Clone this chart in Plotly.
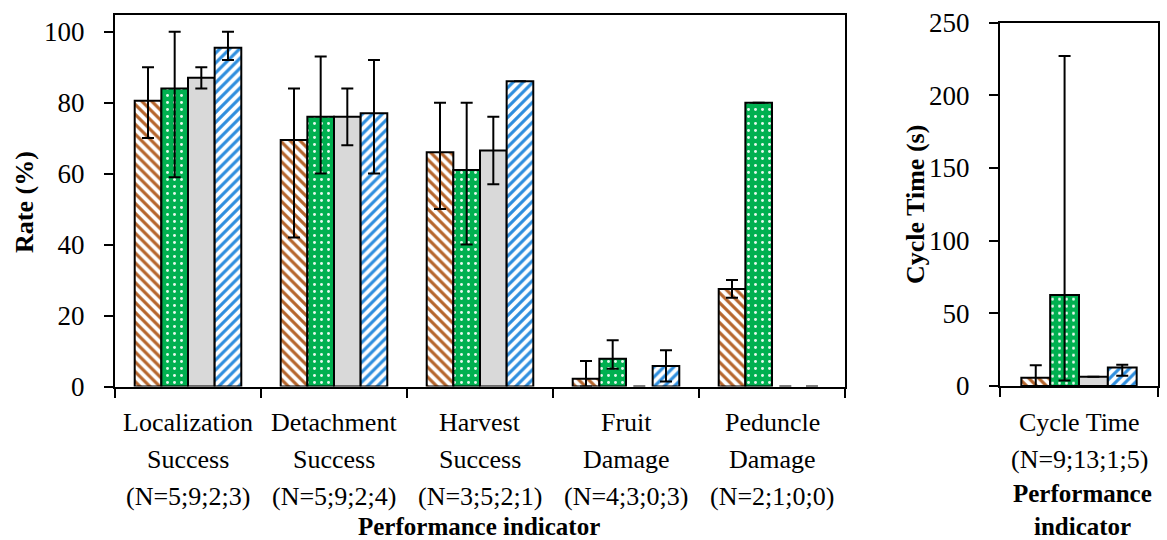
import plotly.graph_objects as go

# ---------------- data ----------------
categories = ["Localization Success", "Detachment Success", "Harvest Success",
              "Fruit Damage", "Peduncle Damage"]
cat_line1 = ["Localization", "Detachment", "Harvest", "Fruit", "Peduncle"]
cat_line2 = ["Success", "Success", "Success", "Damage", "Damage"]
cat_n = ["(N=5;9;2;3)", "(N=5;9;2;4)", "(N=3;5;2;1)", "(N=4;3;0;3)", "(N=2;1;0;0)"]

series_names = ["Series A", "Series B", "Series C", "Series D"]

rate_a = [80.5, 69.5, 66.0, 2.2, 27.5]
rate_a_plus = [9.5, 14.5, 14.0, 5.0, 2.5]
rate_a_minus = [10.5, 27.5, 16.0, 2.2, 2.5]

rate_b = [84.0, 76.0, 61.0, 7.8, 80.0]
rate_b_plus = [16.0, 17.0, 19.0, 5.2, 0]
rate_b_minus = [25.0, 16.0, 21.0, 2.8, 0]

rate_c = [87.0, 76.0, 66.5, 0, 0]
rate_c_plus = [3.0, 8.0, 9.5, 0, 0]
rate_c_minus = [3.0, 8.0, 9.5, 0, 0]

rate_d = [95.5, 77.0, 86.0, 5.8, 0]
rate_d_plus = [4.5, 15.0, 0, 4.4, 0]
rate_d_minus = [3.5, 17.0, 0, 4.4, 0]

ct_category = ["Cycle Time"]
ct_n = ["(N=9;13;1;5)"]
ct_a, ct_a_plus, ct_a_minus = [5.7], [8.5], [5.7]
ct_b, ct_b_plus, ct_b_minus = [62.6], [164.4], [58.9]
ct_c, ct_c_plus, ct_c_minus = [6.4], [0], [0]
ct_d, ct_d_plus, ct_d_minus = [12.8], [1.9], [5.7]

y_ticks_rate = [0, 20, 40, 60, 80, 100]
y_ticks_ct = [0, 50, 100, 150, 200, 250]

# ---------------- styles ----------------
W, H = 1167, 540
FONT = "Liberation Serif"
BROWN = "#b5652c"
GREEN = "#00b050"
GRAY = "#d9d9d9"
BLUE = "#2e8ede"

patterns = [
    dict(color="white",
         pattern=dict(shape="\\", fgcolor=BROWN, bgcolor="white",
                      size=7, solidity=0.45, fillmode="replace")),
    dict(color=GREEN,
         pattern=dict(shape=".", fgcolor="#e6f9ee", bgcolor=GREEN,
                      size=7, solidity=0.14, fillmode="replace")),
    dict(color=GRAY),
    dict(color="white",
         pattern=dict(shape="/", fgcolor=BLUE, bgcolor="white",
                      size=7, solidity=0.45, fillmode="replace")),
]

def marker_for(i, values):
    m = dict(patterns[i])
    # empty (zero) bars are not visible in the reference
    m["line"] = dict(color="black", width=[2 if v > 0 else 0 for v in values])
    m["opacity"] = [1 if v > 0 else 0 for v in values]
    return m

def err(plus, minus, values):
    p = [e if v > 0 else None for e, v in zip(plus, values)]
    m = [e if v > 0 else None for e, v in zip(minus, values)]
    return dict(type="data", symmetric=False, array=p, arrayminus=m,
                color="black", thickness=2, width=6)

fig = go.Figure()
left_sets = [(rate_a, rate_a_plus, rate_a_minus), (rate_b, rate_b_plus, rate_b_minus),
             (rate_c, rate_c_plus, rate_c_minus), (rate_d, rate_d_plus, rate_d_minus)]
for i, (v, p, m) in enumerate(left_sets):
    fig.add_trace(go.Bar(x=categories, y=v, name=series_names[i], error_y=err(p, m, v),
                         xaxis="x", yaxis="y", showlegend=False,
                         marker=marker_for(i, v)))

right_sets = [(ct_a, ct_a_plus, ct_a_minus), (ct_b, ct_b_plus, ct_b_minus),
              (ct_c, ct_c_plus, ct_c_minus), (ct_d, ct_d_plus, ct_d_minus)]
for i, (v, p, m) in enumerate(right_sets):
    fig.add_trace(go.Bar(x=ct_category, y=v, name=series_names[i], error_y=err(p, m, v),
                         xaxis="x2", yaxis="y2", showlegend=False,
                         marker=marker_for(i, v)))

def px_x(px):
    return px / W

def px_y(py):
    return 1 - py / H

axis_common = dict(showline=True, linecolor="black", linewidth=2, mirror=True,
                   showgrid=False, zeroline=False, ticks="outside", ticklen=9,
                   tickwidth=2, tickcolor="black", automargin=False,
                   tickfont=dict(family=FONT, size=27, color="black"))

fig.update_layout(
    width=W, height=H,
    margin=dict(l=0, r=0, t=0, b=0, autoexpand=False),
    paper_bgcolor="white", plot_bgcolor="white",
    barmode="group", bargap=0.27, bargroupgap=0,
    font=dict(family=FONT, color="black"),
    xaxis=dict(domain=[px_x(115), px_x(845)], anchor="y", tickson="boundaries",
               showticklabels=False, **axis_common),
    yaxis=dict(domain=[px_y(386.5), px_y(15)], anchor="x", range=[0, 104.7],
               tickvals=y_ticks_rate, ticklabelstandoff=14, **axis_common),
    xaxis2=dict(domain=[px_x(1000), px_x(1158)], anchor="y2", tickson="boundaries",
                showticklabels=False, **axis_common),
    yaxis2=dict(domain=[px_y(386), px_y(22.7)], anchor="x2", range=[0, 250],
                tickvals=y_ticks_ct, ticklabelstandoff=14, **axis_common),
)

ann = []
cat_font = dict(family=FONT, size=26, color="black")
for i, c in enumerate(categories):
    for line_text, ypx in ((cat_line1[i], 422), (cat_line2[i], 459), (cat_n[i], 496)):
        ann.append(dict(x=c, xref="x", y=px_y(ypx), yref="paper", text=line_text,
                        showarrow=False, xanchor="center", yanchor="middle",
                        borderpad=0, borderwidth=0, font=cat_font))
for line_text, ypx in ((ct_category[0], 422), (ct_n[0], 459)):
    ann.append(dict(x=ct_category[0], xref="x2", y=px_y(ypx), yref="paper",
                    text=line_text, showarrow=False, xanchor="center",
                    yanchor="middle", borderpad=0, borderwidth=0, font=cat_font))

title_font = dict(family=FONT, size=25, color="black")
ann.append(dict(x=px_x(479), y=0, xref="paper", yref="paper",
                text="<b>Performance indicator</b>", showarrow=False,
                xanchor="center", yanchor="bottom", borderpad=0, borderwidth=0,
                font=title_font))
ann.append(dict(x=px_x(1082), y=px_y(493), xref="paper", yref="paper",
                text="<b>Performance</b>", showarrow=False,
                xanchor="center", yanchor="middle", borderpad=0, borderwidth=0,
                font=title_font))
ann.append(dict(x=px_x(1082), y=0, xref="paper", yref="paper",
                text="<b>indicator</b>", showarrow=False,
                xanchor="center", yanchor="bottom", borderpad=0, borderwidth=0,
                font=title_font))
ann.append(dict(x=px_x(25), y=px_y(202), xref="paper", yref="paper",
                text="<b>Rate (%)</b>", showarrow=False, textangle=-90,
                xanchor="center", yanchor="middle", font=dict(family=FONT, size=26)))
ann.append(dict(x=px_x(915), y=px_y(205), xref="paper", yref="paper",
                text="<b>Cycle Time (s)</b>", showarrow=False, textangle=-90,
                xanchor="center", yanchor="middle", font=dict(family=FONT, size=26)))
fig.update_layout(annotations=ann)

fig.write_html("out.html")
